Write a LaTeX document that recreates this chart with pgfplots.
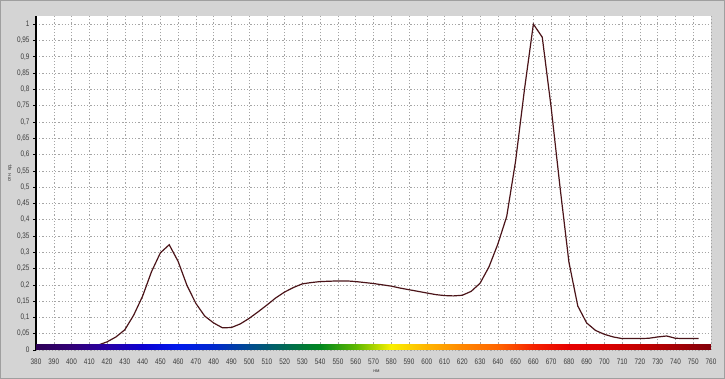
\documentclass[border=0pt]{standalone}
\usepackage{fontspec}
\setmainfont{Liberation Sans}
\newfontfamily\tickfont[FakeStretch=0.8]{Liberation Sans}
\usepackage{pgfplots}
\pgfplotsset{compat=1.18}
\definecolor{bggray}{RGB}{212,212,212}
\definecolor{curvec}{RGB}{75,20,25}
\definecolor{gridc}{RGB}{165,165,165}
\definecolor{labc}{RGB}{60,60,60}
\begin{document}
\begin{tikzpicture}[x=1pt,y=1pt]
\fill[bggray] (0,0) rectangle (725,379);
\draw[gray!75, line width=1pt] (0.5,0.5) rectangle (724.5,378.5);
\begin{axis}[
  at={(36pt,29pt)}, anchor=south west,
  scale only axis, width=675pt, height=334pt,
  xmin=380, xmax=760, ymin=0, ymax=1.025,
  axis background/.style={fill=white},
  xtick={380,390,...,760},
  xticklabels={380,390,400,410,420,430,440,450,460,470,480,490,500,510,520,530,540,550,560,570,580,590,600,610,620,630,640,650,660,670,680,690,700,710,720,730,740,750,760},
  ytick={0,0.05,0.1,0.15,0.2,0.25,0.3,0.35,0.4,0.45,0.5,0.55,0.6,0.65,0.7,0.75,0.8,0.85,0.9,0.95,1},
  yticklabels={0,{0,05},{0,1},{0,15},{0,2},{0,25},{0,3},{0,35},{0,4},{0,45},{0,5},{0,55},{0,6},{0,65},{0,7},{0,75},{0,8},{0,85},{0,9},{0,95},1},
  tick label style={font=\tickfont\fontsize{8}{8}\selectfont, text=labc},
  axis lines*=left,
  x axis line style={draw=none},
  y axis line style={black, line width=1.5pt},
  tick align=outside,
  major tick length=3pt,
  x tick style={draw=none},
  y tick style={black, line width=0.5pt},
  xticklabel style={yshift=-2pt},
  grid=major,
  grid style={gridc, dash pattern=on 1.2pt off 2pt, line width=0.5pt},
  xlabel={нм},
  xlabel style={at={(axis description cs:0.5,0)}, anchor=center, yshift=-21pt, xshift=3pt, font=\fontsize{5}{5}\selectfont, text=labc},
  ylabel={отн. ед.},
  ylabel style={at={(axis description cs:-0.0385,0.53)}, anchor=center, font=\fontsize{5}{5}\selectfont, text=labc},
  colormap={spectrum}{
    rgb255=(45,0,85) rgb255=(50,0,120) rgb255=(40,0,165) rgb255=(10,0,210)
    rgb255=(0,25,235) rgb255=(0,40,205) rgb255=(0,75,145) rgb255=(0,105,85)
    rgb255=(0,135,30) rgb255=(95,185,0) rgb255=(250,240,0) rgb255=(255,180,0)
    rgb255=(255,135,0) rgb255=(255,100,0) rgb255=(245,35,0) rgb255=(230,0,0)
    rgb255=(220,0,0) rgb255=(195,0,0) rgb255=(165,0,5) rgb255=(130,0,10)},
  point meta min=380, point meta max=760,
]
\addplot[curvec, line width=1.2pt] table {
x y
380 0.012
385 0.012
390 0.012
395 0.012
400 0.012
405 0.012
410 0.013
415 0.015
420 0.025
425 0.04
430 0.062
435 0.107
440 0.165
445 0.24
450 0.298
455 0.323
460 0.272
465 0.198
470 0.143
475 0.104
480 0.083
485 0.068
490 0.069
495 0.08
500 0.097
505 0.117
510 0.138
515 0.16
520 0.178
525 0.192
530 0.203
535 0.207
540 0.21
545 0.211
550 0.212
555 0.212
560 0.21
565 0.207
570 0.204
575 0.2
580 0.196
585 0.19
590 0.185
595 0.18
600 0.175
605 0.17
610 0.167
615 0.166
620 0.168
625 0.18
630 0.205
635 0.255
640 0.325
645 0.41
650 0.58
655 0.80
660 1.0
665 0.96
670 0.745
675 0.50
680 0.27
685 0.135
690 0.083
695 0.06
700 0.048
705 0.04
710 0.035
715 0.035
720 0.035
725 0.036
730 0.04
735 0.043
740 0.036
745 0.035
750 0.035
753 0.035
};
\addplot[surf, shader=interp, point meta=x, mesh/cols=39] coordinates {
(380,0) (390,0) (400,0) (410,0) (420,0) (430,0) (440,0) (450,0) (460,0) (470,0)
(480,0) (490,0) (500,0) (510,0) (520,0) (530,0) (540,0) (550,0) (560,0) (570,0)
(580,0) (590,0) (600,0) (610,0) (620,0) (630,0) (640,0) (650,0) (660,0) (670,0)
(680,0) (690,0) (700,0) (710,0) (720,0) (730,0) (740,0) (750,0) (760,0)
(380,0.017) (390,0.017) (400,0.017) (410,0.017) (420,0.017) (430,0.017) (440,0.017) (450,0.017) (460,0.017) (470,0.017)
(480,0.017) (490,0.017) (500,0.017) (510,0.017) (520,0.017) (530,0.017) (540,0.017) (550,0.017) (560,0.017) (570,0.017)
(580,0.017) (590,0.017) (600,0.017) (610,0.017) (620,0.017) (630,0.017) (640,0.017) (650,0.017) (660,0.017) (670,0.017)
(680,0.017) (690,0.017) (700,0.017) (710,0.017) (720,0.017) (730,0.017) (740,0.017) (750,0.017) (760,0.017)
};
\end{axis}
\end{tikzpicture}
\end{document}
